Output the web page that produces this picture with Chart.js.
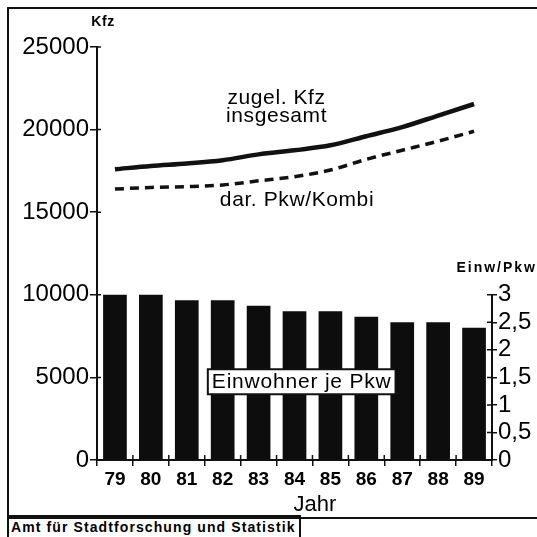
<!DOCTYPE html>
<html lang="de">
<head>
<meta charset="utf-8">
<script src="https://cdn.jsdelivr.net/npm/chart.js@4.4.1/dist/chart.umd.min.js"></script>
<style>
    html, body { margin: 0; padding: 0; background: #fff; }
    body { width: 537px; height: 537px; position: relative; overflow: hidden; font-family: 'Liberation Sans', sans-serif; }
    #frame { position: absolute; left: 7px; top: 7px; width: 560px; height: 508px; border: 2px solid #111; }
    #footer { position: absolute; left: 7px; top: 515px; height: 24px; padding: 0 3px 0 2px; border: 2px solid #111; font-size: 14px; font-weight: bold; line-height: 20px; letter-spacing: 1.1px; color: #000; }
    #chart { position: absolute; left: 0; top: 0; }
</style>
</head>
<body>
<div id="frame"></div>
<div id="footer">Amt für Stadtforschung und Statistik</div>
<canvas id="chart" width="537" height="537"></canvas>
<script>
// 数据
const years = ['79', '80', '81', '82', '83', '84', '85', '86', '87', '88', '89'];
const kfzTotal = [17600, 17800, 17950, 18150, 18500, 18750, 19050, 19600, 20150, 20850, 21550];
const pkwKombi = [16400, 16500, 16550, 16650, 16900, 17150, 17550, 18200, 18750, 19300, 19900];
const einwJePkw = [3.0, 3.0, 2.9, 2.9, 2.8, 2.7, 2.7, 2.6, 2.5, 2.5, 2.4];
const leftTicks = [0, 5000, 10000, 15000, 20000, 25000];
const rightTicks = [0, 0.5, 1, 1.5, 2, 2.5, 3];

const ink = '#111';

// 文字和轴线补充
const overlayPlugin = {
    id: 'overlay',
    afterDraw(chart) {
        const ctx = chart.ctx;
        const x = chart.scales.x;
        const y = chart.scales.y;
        const y2 = chart.scales.y2;
        const area = chart.chartArea;
        ctx.save();
        ctx.strokeStyle = ink;
        ctx.lineWidth = 2;

        // 右轴只画到 3
        const topRight = y2.getPixelForValue(rightTicks[rightTicks.length - 1]);
        ctx.beginPath();
        ctx.moveTo(y2.left, y2.getPixelForValue(0) + 1);
        ctx.lineTo(y2.left, topRight);
        ctx.stroke();

        // 向内的小刻度
        ctx.lineWidth = 1.5;
        ctx.beginPath();
        leftTicks.forEach(v => {
            const py = y.getPixelForValue(v);
            ctx.moveTo(y.right, py);
            ctx.lineTo(y.right + 4, py);
        });
        rightTicks.forEach(v => {
            const py = y2.getPixelForValue(v);
            ctx.moveTo(y2.left - 5, py);
            ctx.lineTo(y2.left, py);
        });
        for (let i = 0; i <= years.length; i++) {
            const px = x.getPixelForValue(i - 0.5);
            ctx.moveTo(px, area.bottom - 5);
            ctx.lineTo(px, area.bottom);
        }
        ctx.stroke();

        ctx.fillStyle = '#000';
        ctx.textAlign = 'center';
        ctx.textBaseline = 'middle';

        // 轴标题
        ctx.font = 'bold 14px "Liberation Sans"';
        ctx.letterSpacing = '0.5px';
        ctx.fillText('Kfz', y.right + 6, 22);
        ctx.textAlign = 'right';
        ctx.letterSpacing = '2px';
        ctx.fillText('Einw/Pkw', 537, topRight - 27);
        ctx.textAlign = 'center';
        ctx.letterSpacing = '0px';
        ctx.font = '22px "Liberation Sans"';
        ctx.fillText('Jahr', x.getPixelForValue(5.57), area.bottom + 45);

        // 线条说明
        ctx.font = '21px "Liberation Sans"';
        ctx.letterSpacing = '0.6px';
        ctx.fillText('zugel. Kfz', x.getPixelForValue(4.5), y.getPixelForValue(21900));
        ctx.fillText('insgesamt', x.getPixelForValue(4.5), y.getPixelForValue(20800));
        ctx.fillText('dar. Pkw/Kombi', x.getPixelForValue(5.07), y.getPixelForValue(15700));

        // 柱子说明（带框）
        const bx = x.getPixelForValue(5.2);
        const by = y2.getPixelForValue(1.43);
        ctx.letterSpacing = '0.8px';
        const w = ctx.measureText('Einwohner je Pkw').width + 8;
        ctx.fillStyle = '#fff';
        ctx.fillRect(bx - w / 2, by - 12, w, 25);
        ctx.lineWidth = 2;
        ctx.strokeRect(bx - w / 2, by - 12, w, 25);
        ctx.fillStyle = '#000';
        ctx.fillText('Einwohner je Pkw', bx, by + 1);
        ctx.restore();
    }
};

const ctx = document.getElementById('chart').getContext('2d');
new Chart(ctx, {
    data: {
        labels: years,
        datasets: [
            {
                type: 'line',
                label: 'zugel. Kfz insgesamt',
                data: kfzTotal,
                yAxisID: 'y',
                borderColor: ink,
                borderWidth: 4.5,
                pointRadius: 0,
                cubicInterpolationMode: 'monotone',
                order: 0
            },
            {
                type: 'line',
                label: 'dar. Pkw/Kombi',
                data: pkwKombi,
                yAxisID: 'y',
                borderColor: ink,
                borderWidth: 3.5,
                borderDash: [9, 6],
                pointRadius: 0,
                cubicInterpolationMode: 'monotone',
                order: 0
            },
            {
                type: 'bar',
                label: 'Einwohner je Pkw',
                data: einwJePkw,
                yAxisID: 'y2',
                backgroundColor: '#0d0d0d',
                barPercentage: 0.66,
                categoryPercentage: 1,
                order: 1
            }
        ]
    },
    options: {
        responsive: false,
        animation: false,
        layout: { padding: { top: 47, left: 0, right: 0, bottom: 0 } },
        plugins: {
            legend: { display: false },
            tooltip: { enabled: false }
        },
        scales: {
            x: {
                offset: true,
                afterFit: s => { s.height = 77; },
                grid: { offset: true, drawOnChartArea: false, color: ink, lineWidth: 1.5, tickLength: 6 },
                border: { display: true, color: ink, width: 2 },
                ticks: { color: '#000', padding: 2, font: { family: 'Liberation Sans', size: 19, weight: 'bold' } }
            },
            y: {
                position: 'left',
                min: 0,
                max: 25000,
                afterFit: s => { s.width = 97; },
                afterBuildTicks: s => { s.ticks = leftTicks.map(v => ({ value: v })); },
                grid: { drawOnChartArea: false, color: ink, lineWidth: 1.5, tickLength: 7 },
                border: { display: true, color: ink, width: 2 },
                ticks: {
                    color: '#000',
                    padding: 1,
                    font: { family: 'Liberation Sans', size: 24 },
                    callback: v => String(v)
                }
            },
            y2: {
                position: 'right',
                min: 0,
                max: 7.5,
                afterFit: s => { s.width = 45; },
                afterBuildTicks: s => { s.ticks = rightTicks.map(v => ({ value: v })); },
                grid: { drawOnChartArea: false, color: ink, lineWidth: 1.5, tickLength: 5 },
                border: { display: false },
                ticks: {
                    color: '#000',
                    padding: 1,
                    font: { family: 'Liberation Sans', size: 24 },
                    callback: v => String(v).replace('.', ',')
                }
            }
        }
    },
    plugins: [overlayPlugin]
});
</script>
</body>
</html>
